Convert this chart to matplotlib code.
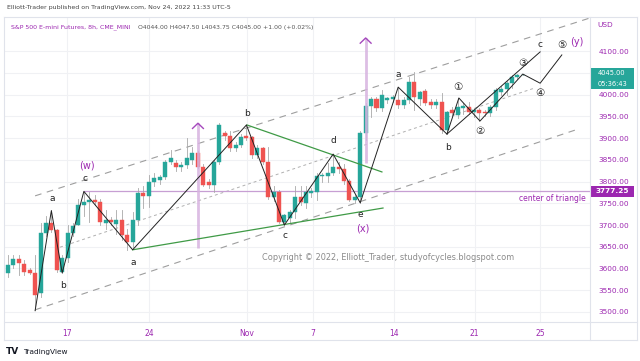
import matplotlib
matplotlib.use('Agg')
import matplotlib.pyplot as plt
import numpy as np
from matplotlib.patches import Rectangle
from matplotlib.lines import Line2D

# ---------------- data ----------------
opens = [3590, 3608, 3622, 3610, 3597, 3590, 3544, 3682, 3705, 3689,
         3592, 3624, 3682, 3700, 3746, 3753, 3757, 3753, 3705, 3712,
         3703, 3712, 3677, 3661, 3712, 3774, 3766, 3799, 3803, 3810,
         3845, 3843, 3834, 3838, 3849, 3866, 3834, 3799, 3792, 3845,
         3911, 3905, 3877, 3884, 3904, 3902, 3861, 3877, 3845, 3764,
         3776, 3707, 3716, 3730, 3764, 3750, 3774, 3777, 3813, 3813,
         3820, 3834, 3829, 3801, 3757, 3764, 3911, 3974, 3990, 3969,
         3987, 3990, 3987, 3976, 3987, 4029, 3990, 4008, 3983, 3976,
         3983, 3918, 3964, 3953, 3968, 3971, 3960, 3964, 3960, 3957,
         3971, 4005, 4012, 4026, 4040, 4044]
highs = [3631, 3630, 3631, 3620, 3600, 3630, 3705, 3720, 3735, 3690,
         3630, 3700, 3705, 3760, 3777, 3776, 3770, 3760, 3735, 3718,
         3735, 3735, 3690, 3730, 3785, 3790, 3815, 3820, 3815, 3850,
         3872, 3850, 3845, 3900, 3880, 3870, 3840, 3805, 3850, 3935,
         3915, 3915, 3890, 3910, 3930, 3905, 3885, 3880, 3880, 3790,
         3780, 3725, 3735, 3790, 3790, 3790, 3785, 3820, 3820, 3843,
         3863, 3845, 3840, 3805, 3768, 3915, 3980, 3994, 3995, 4010,
         3995, 4000, 4017, 3995, 4040, 4052, 4008, 4012, 3990, 3990,
         4003, 3962, 3972, 3992, 3980, 3982, 3968, 3970, 3965, 3975,
         4015, 4020, 4030, 4045, 4048, 4047.5]
lows = [3580, 3600, 3585, 3585, 3588, 3505, 3535, 3675, 3685, 3592,
        3590, 3615, 3675, 3700, 3720, 3707, 3745, 3700, 3690, 3700,
        3680, 3665, 3643, 3650, 3700, 3740, 3741, 3790, 3795, 3805,
        3840, 3825, 3825, 3830, 3840, 3830, 3790, 3785, 3776, 3840,
        3895, 3870, 3870, 3880, 3895, 3855, 3855, 3840, 3760, 3755,
        3705, 3700, 3705, 3716, 3745, 3740, 3765, 3757, 3800, 3799,
        3815, 3820, 3795, 3755, 3750, 3750, 3895, 3948, 3962, 3962,
        3980, 3982, 3970, 3970, 3980, 3964, 3975, 3975, 3970, 3970,
        3912, 3909, 3950, 3945, 3955, 3955, 3948, 3940, 3950, 3950,
        3965, 3998, 4000, 4015, 4035, 4043.75]
closes = [3608, 3622, 3613, 3592, 3590, 3539, 3682, 3705, 3689, 3597,
          3624, 3682, 3698, 3746, 3753, 3757, 3753, 3707, 3712, 3707,
          3712, 3677, 3661, 3712, 3774, 3767, 3799, 3808, 3810, 3845,
          3854, 3834, 3838, 3854, 3866, 3834, 3792, 3792, 3845, 3930,
          3905, 3877, 3884, 3902, 3900, 3861, 3877, 3845, 3764, 3776,
          3707, 3723, 3730, 3764, 3752, 3776, 3778, 3813, 3816, 3820,
          3834, 3829, 3801, 3757, 3764, 3911, 3974, 3990, 3969, 3999,
          3992, 3994, 3976, 3987, 4029, 3994, 4005, 3980, 3976, 3983,
          3918, 3960, 3957, 3971, 3973, 3960, 3964, 3958, 3957, 3971,
          4010, 4012, 4026, 4040, 4044, 4045]

date_ticks = [10.9, 26.0, 44.1, 56.2, 71.2, 86.1, 98.2]
date_labels = ['17', '24', 'Nov', '7', '14', '21', '25']
price_ticks = list(range(3500, 4101, 50))
hidden_price_labels = [4050]   # covered by the last-price box in the reference

# Elliott wave path (bar index, price)
wave_x = [5, 8, 10, 14, 23, 44, 51, 60, 65, 72, 81, 83.2, 87.1, 95, 98.2, 102.2]
wave_y = [3503, 3733, 3590, 3777.25, 3643, 3930, 3700, 3863, 3751, 4017,
          3909, 3992, 3939, 4047, 4026, 4091]
cline_x = [81, 98.2]
cline_y = [3909, 4098]

# triangle boundaries (green)
tri_up_x, tri_up_y = [44.1, 69.0], [3930, 3822]
tri_lo_x, tri_lo_y = [23.0, 69.2], [3643, 3739]

# channel lines (gray dashed)
ch_up_x, ch_up_y = [5.0, 107.4], [3767, 4176]
ch_lo_x, ch_lo_y = [5.0, 104.6], [3505, 3918]
ch_mid_x, ch_mid_y = [9.6, 97.2], [3649, 4015]

# vertical purple arrows
arrow_x = [35.05, 66.0]
arrow_lo = [3647, 3843]
arrow_hi = [3934, 4130]

center_level = 3777.25
center_start = 14
last_price = 4045.00

lab_text = ['a', 'b', 'c', '(w)', 'a', 'b', 'c', 'd', 'e', '(x)', 'a', 'b',
            '①', '②', '③', '④', '⑤', 'c', '(y)']
lab_x = [8.1, 10.1, 14.2, 14.6, 23.1, 44.1, 51.1, 60.0, 65.1, 65.5, 72.0, 81.2,
         83.0, 87.1, 95.0, 98.2, 102.2, 98.2, 105.0]
lab_y = [3762, 3562, 3806, 3836, 3613, 3957, 3675, 3895, 3723, 3692, 4045, 3879,
         4017, 3916, 4072, 4003, 4114, 4116, 4121]

# ---------------- figure ----------------
W, H = 640, 361
fig = plt.figure(figsize=(6.4, 3.61), dpi=100)
fig.patch.set_facecolor('white')
L, R, T, B = 4, 590, 17, 322
ax = fig.add_axes([L / W, 1 - B / H, (R - L) / W, (B - T) / H])
ax.set_xlim(-0.74, 107.4)
ax.set_ylim(3477.0, 4178.2)

PURPLE = '#9c27b0'
GREEN = '#26a69a'
RED = '#ef5350'

ax.set_yticks(price_ticks)
ax.set_yticklabels(['' if v in hidden_price_labels else f'{v:.2f}' for v in price_ticks])
ax.yaxis.tick_right()
ax.set_xticks(date_ticks)
ax.set_xticklabels(date_labels)
ax.tick_params(axis='y', length=0, pad=6, labelsize=5.3, labelcolor=PURPLE)
ax.tick_params(axis='x', length=0, pad=5, labelsize=5.5, labelcolor=PURPLE)
ax.grid(color='#f0f1f4', lw=0.8, zorder=0)
for s in ax.spines.values():
    s.set_visible(False)
ax.set_axisbelow(True)

# channel lines
ax.plot(ch_up_x, ch_up_y, color='#9e9e9e', lw=0.8, ls=(0, (6, 5)), zorder=1)
ax.plot(ch_lo_x, ch_lo_y, color='#9e9e9e', lw=0.8, ls=(0, (6, 5)), zorder=1)
ax.plot(ch_mid_x, ch_mid_y, color='#b0b0b0', lw=0.7, ls=(0, (3, 3)), zorder=1)

# center of triangle
ax.plot([center_start, ax.get_xlim()[1]], [center_level, center_level],
        color='#c79fd3', lw=0.9, zorder=1)
ax.text(106.6, center_level - 6, 'center of triangle', color=PURPLE, fontsize=5.5,
        ha='right', va='top', zorder=6)

# candles
idx = np.arange(len(opens))
bw = 0.74
for i in idx:
    o, h, l, c = opens[i], highs[i], lows[i], closes[i]
    col = GREEN if c >= o else RED
    ax.plot([i, i], [l, h], color='#a8a8a8', lw=0.6, zorder=2)
    bot = min(o, c)
    ht = max(abs(c - o), 2.0)
    ax.add_patch(Rectangle((i - bw / 2, bot), bw, ht, facecolor=col,
                           edgecolor=col, lw=0.3, zorder=3))

# purple vertical arrows
for xa, lo, hi in zip(arrow_x, arrow_lo, arrow_hi):
    ax.plot([xa, xa], [lo, hi], color='#d7b3e0', lw=2.0, alpha=0.85, zorder=4,
            solid_capstyle='butt')
    ax.plot([xa - 1.0, xa, xa + 1.0], [hi - 12, hi, hi - 12], color='#a548bd',
            lw=1.0, zorder=5)

# green triangle lines
ax.plot(tri_up_x, tri_up_y, color='#3f9a46', lw=0.9, zorder=4)
ax.plot(tri_lo_x, tri_lo_y, color='#3f9a46', lw=0.9, zorder=4)

# wave lines
ax.plot(wave_x, wave_y, color='#222222', lw=0.7, zorder=5)
ax.plot(cline_x, cline_y, color='#222222', lw=0.7, zorder=5)

# labels
for t, x, y in zip(lab_text, lab_x, lab_y):
    if t.startswith('('):
        ax.text(x, y, t, color=PURPLE, fontsize=7, ha='center', va='center', zorder=6)
    elif t in '①②③④⑤':
        ax.text(x, y, t, color='#222222', fontsize=7.5, ha='center', va='center',
                family=['DejaVu Sans', 'Noto Sans CJK JP'], zorder=6)
    else:
        ax.text(x, y, t, color='#222222', fontsize=6.5, ha='center', va='center', zorder=6)

# copyright
fig.text(388 / W, 1 - 258 / H, 'Copyright © 2022, Elliott_Trader, studyofcycles.blogspot.com',
         color='#8a8a8a', fontsize=5.9, ha='center', va='center')

# frame lines
def hline(y, x0, x1, c='#e0e3eb'):
    fig.add_artist(Line2D([x0 / W, x1 / W], [1 - y / H, 1 - y / H], color=c, lw=0.8))
def vline(x, y0, y1, c='#e0e3eb'):
    fig.add_artist(Line2D([x / W, x / W], [1 - y0 / H, 1 - y1 / H], color=c, lw=0.8))
hline(17, 4, 637)
hline(322, 4, 637)
hline(340, 4, 637)
vline(4, 17, 340)
vline(590, 17, 340)
vline(637, 17, 340)

# header texts
fig.text(7 / W, 1 - 7 / H, 'Elliott-Trader published on TradingView.com, Nov 24, 2022 11:33 UTC-5',
         fontsize=4.5, color='#444444', va='center', ha='left')
fig.text(11 / W, 1 - 27 / H, 'S&P 500 E-mini Futures, 8h, CME_MINI', fontsize=4.5,
         color=PURPLE, va='center', ha='left')
fig.text(138 / W, 1 - 27 / H, 'O4044.00 H4047.50 L4043.75 C4045.00 +1.00 (+0.02%)',
         fontsize=4.4, color='#555555', va='center', ha='left')
fig.text(597 / W, 1 - 25 / H, 'USD', fontsize=5.3, color=PURPLE, va='center', ha='left')

# price boxes on axis
def ypix(p):
    return 51 + (4100 - p) / 2.299
yl = ypix(last_price)
fig.add_artist(Rectangle((591 / W, 1 - (yl + 14.5) / H), 43 / W, 21 / H,
                         facecolor=GREEN, edgecolor='none'))
fig.text(612 / W, 1 - (yl - 1.8) / H, f'{last_price:.2f}', fontsize=4.8, color='white',
         ha='center', va='center')
fig.text(612 / W, 1 - (yl + 8.8) / H, '05:36:43', fontsize=4.8, color='white',
         ha='center', va='center')
yc = ypix(center_level)
fig.add_artist(Rectangle((591 / W, 1 - (yc + 5.5) / H), 43 / W, 11 / H,
                         facecolor=PURPLE, edgecolor='none'))
fig.text(612 / W, 1 - yc / H, f'{center_level:.2f}', fontsize=5.3, color='white',
         ha='center', va='center', fontweight='bold')

# TradingView logo text
fig.text(6 / W, 1 - 352 / H, 'TV', fontsize=6.5, color='#131722', fontweight='bold',
         va='center', ha='left')
fig.text(23 / W, 1 - 352 / H, 'TradingView', fontsize=5.3, color='#131722',
         va='center', ha='left')

fig.savefig('out.png', dpi=100)
